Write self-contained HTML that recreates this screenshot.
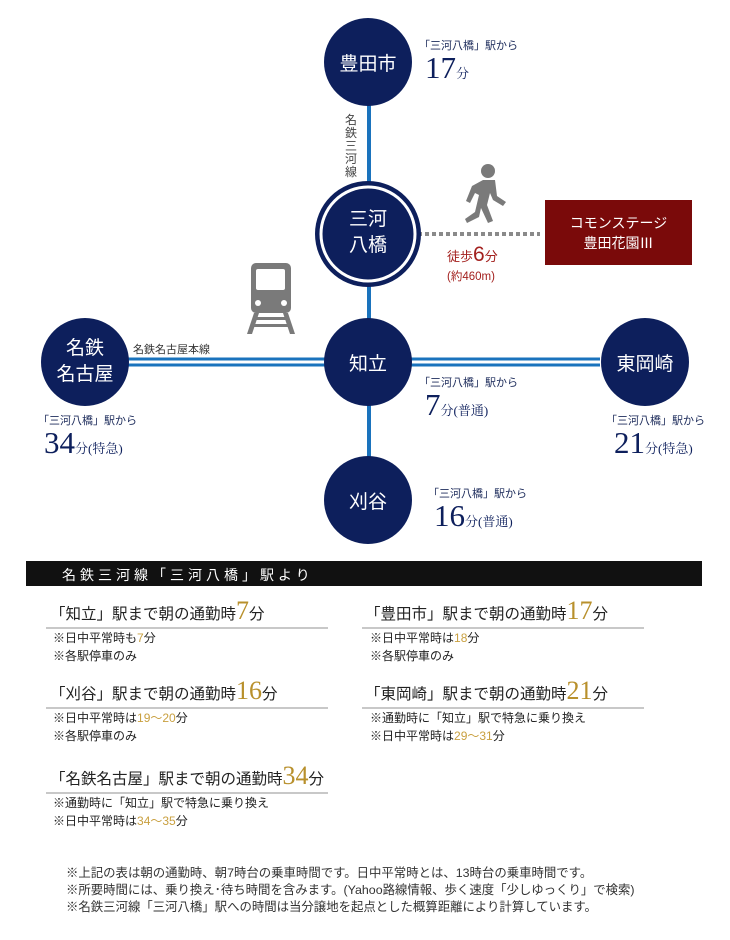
<!DOCTYPE html>
<html><head><meta charset="utf-8"><style>
body{margin:0;width:730px;height:940px;background:#fff;position:relative;overflow:hidden;font-family:"Liberation Sans","Noto Sans CJK JP",sans-serif;}
.a{position:absolute;white-space:nowrap;}
.sm{font-size:11px;color:#1b2a5a;}
.big{font-family:"Liberation Serif","Noto Serif CJK SC",serif;color:#0d1f5c;font-size:31px;}
.u{font-size:13px;color:#0d1f5c;}
.t{font-size:15.5px;color:#222;line-height:26px;}
.t b{font-weight:normal;color:#b8902c;font-size:26px;font-family:"Liberation Serif",serif;line-height:20px;}
.n{font-size:12px;color:#222;line-height:18px;}
.n i{font-style:normal;color:#c9a040;}
.ln{position:absolute;height:2px;background:#c8c8c8;}
.f{font-size:12.4px;color:#333;line-height:17px;}
</style></head><body>
<svg class="a" style="left:0;top:0" width="730" height="560">
<line x1="369" y1="100" x2="369" y2="462" stroke="#1a73bd" stroke-width="4"/>
<line x1="128" y1="359" x2="600" y2="359" stroke="#1a73bd" stroke-width="3"/>
<line x1="128" y1="365" x2="600" y2="365" stroke="#1a73bd" stroke-width="3"/>
<line x1="418" y1="234" x2="540" y2="234" stroke="#8a8a8a" stroke-width="4" stroke-dasharray="4,3"/>
<circle cx="368" cy="62" r="44" fill="#0d1f5c"/>
<circle cx="368" cy="234" r="53" fill="#0d1f5c"/>
<circle cx="368" cy="234" r="47" fill="none" stroke="#fff" stroke-width="3"/>
<circle cx="368" cy="362" r="44" fill="#0d1f5c"/>
<circle cx="368" cy="500" r="44" fill="#0d1f5c"/>
<circle cx="85" cy="362" r="44" fill="#0d1f5c"/>
<circle cx="645" cy="362" r="44" fill="#0d1f5c"/>
<rect x="545" y="200" width="147" height="65" fill="#7a0a0a"/>
<g fill="#7a7a7a">
<rect x="251" y="263" width="40" height="50" rx="5"/>
<rect x="256" y="269" width="29" height="21" rx="2" fill="#fff"/>
<circle cx="258" cy="303" r="3" fill="#fff"/><circle cx="284" cy="303" r="3" fill="#fff"/>
<polygon points="254,313 259,313 252,334 247,334"/><polygon points="283,313 288,313 295,334 290,334"/>
<rect x="255" y="317" width="32" height="3"/><rect x="253" y="324" width="36" height="3"/>
</g>
<g fill="#7a7a7a">
<circle cx="488" cy="171" r="7"/>
<path d="M483 180 L495 180 L497 196 L506 202 L503 206 L493 200 L490 193 L487 205 L493 221 L488 223 L481 208 L479 217 L467 223 L465 219 L475 212 L479 195 L475 193 L470 203 L466 201 L472 186Z"/>
</g>
</svg>
<div class="a" style="left:324px;top:49px;width:88px;text-align:center;color:#fff;font-size:19px">豊田市</div>
<div class="a" style="left:324px;top:207px;width:88px;text-align:center;color:#fff;font-size:19px;line-height:26px">三河<br>八橋</div>
<div class="a" style="left:324px;top:349px;width:88px;text-align:center;color:#fff;font-size:19px">知立</div>
<div class="a" style="left:324px;top:487px;width:88px;text-align:center;color:#fff;font-size:19px">刈谷</div>
<div class="a" style="left:41px;top:336px;width:88px;text-align:center;color:#fff;font-size:19px;line-height:26px">名鉄<br>名古屋</div>
<div class="a" style="left:601px;top:349px;width:88px;text-align:center;color:#fff;font-size:19px">東岡崎</div>
<div class="a" style="left:545px;top:213px;width:147px;text-align:center;color:#fff;font-size:14px;line-height:20px">コモンステージ<br>豊田花園Ⅲ</div>
<div class="a sm" style="left:345px;top:114px;width:14px;line-height:13px;white-space:normal;color:#444;font-size:12px">名鉄三河線</div>
<div class="a sm" style="left:133px;top:341px;color:#333">名鉄名古屋本線</div>
<div class="a" style="left:447px;top:243px;color:#a3201e;font-size:13px">徒歩<span style="font-size:21px">6</span>分</div>
<div class="a" style="left:447px;top:268px;color:#a3201e;font-size:11.5px">(約460m)</div>
<div class="a sm" style="left:419px;top:37px">「三河八橋」駅から</div>
<div class="a big" style="left:425px;top:50px">17<span class="u">分</span></div>
<div class="a sm" style="left:419px;top:374px">「三河八橋」駅から</div>
<div class="a big" style="left:425px;top:387px">7<span class="u">分(普通)</span></div>
<div class="a sm" style="left:428px;top:485px">「三河八橋」駅から</div>
<div class="a big" style="left:434px;top:498px">16<span class="u">分(普通)</span></div>
<div class="a sm" style="left:38px;top:412px">「三河八橋」駅から</div>
<div class="a big" style="left:44px;top:425px">34<span class="u">分(特急)</span></div>
<div class="a sm" style="left:606px;top:412px">「三河八橋」駅から</div>
<div class="a big" style="left:614px;top:425px">21<span class="u">分(特急)</span></div>
<div class="a" style="left:26px;top:561px;width:676px;height:25px;background:#111"></div>
<div class="a" style="left:62px;top:565px;color:#fff;font-size:14px;letter-spacing:4px">名鉄三河線「三河八橋」駅より</div>

<div class="a t" style="left:50px;top:601px">「知立」駅まで朝の通勤時<b>7</b>分</div>
<div class="ln" style="left:46px;top:627px;width:282px"></div>
<div class="a n" style="left:53px;top:629px">※日中平常時も<i>7</i>分<br>※各駅停車のみ</div>

<div class="a t" style="left:365px;top:601px">「豊田市」駅まで朝の通勤時<b>17</b>分</div>
<div class="ln" style="left:362px;top:627px;width:282px"></div>
<div class="a n" style="left:370px;top:629px">※日中平常時は<i>18</i>分<br>※各駅停車のみ</div>

<div class="a t" style="left:50px;top:681px">「刈谷」駅まで朝の通勤時<b>16</b>分</div>
<div class="ln" style="left:46px;top:707px;width:282px"></div>
<div class="a n" style="left:53px;top:709px">※日中平常時は<i>19～20</i>分<br>※各駅停車のみ</div>

<div class="a t" style="left:365px;top:681px">「東岡崎」駅まで朝の通勤時<b>21</b>分</div>
<div class="ln" style="left:362px;top:707px;width:282px"></div>
<div class="a n" style="left:370px;top:709px">※通勤時に「知立」駅で特急に乗り換え<br>※日中平常時は<i>29～31</i>分</div>

<div class="a t" style="left:50px;top:766px">「名鉄名古屋」駅まで朝の通勤時<b>34</b>分</div>
<div class="ln" style="left:46px;top:792px;width:282px"></div>
<div class="a n" style="left:53px;top:794px">※通勤時に「知立」駅で特急に乗り換え<br>※日中平常時は<i>34～35</i>分</div>

<div class="a f" style="left:66px;top:865px">※上記の表は朝の通勤時、朝7時台の乗車時間です。日中平常時とは、13時台の乗車時間です。<br>※所要時間には、乗り換え･待ち時間を含みます。(Yahoo路線情報、歩く速度「少しゆっくり」で検索)<br>※名鉄三河線「三河八橋」駅への時間は当分譲地を起点とした概算距離により計算しています。</div>
</body></html>
